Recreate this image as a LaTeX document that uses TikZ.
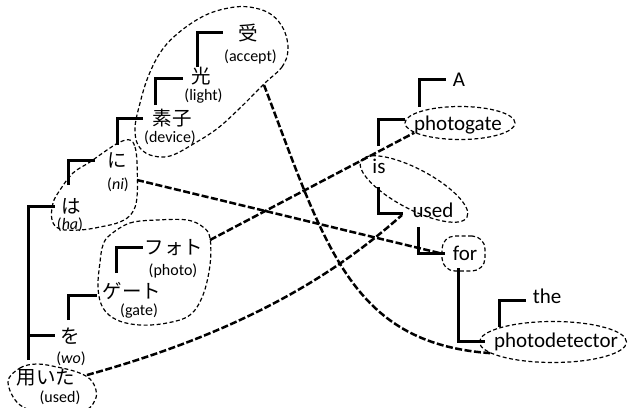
\documentclass[tikz,border=0pt]{standalone}
\usepackage{fontspec}
\setmainfont{Carlito}
\newfontfamily\jpfont{Noto Sans CJK JP}
\usetikzlibrary{calc,shapes.geometric}
\begin{document}
\begin{tikzpicture}[x=1pt,y=-1pt,
  jp/.style={font=\jpfont\fontsize{19.5}{19.5}\selectfont, inner sep=0pt},
  en/.style={font=\fontsize{21}{21}\selectfont, inner sep=0pt, anchor=base},
  gl/.style={font=\fontsize{16}{16}\selectfont, inner sep=0pt},
  br/.style={line width=3pt, line join=miter},
  blob/.style={draw, line width=1.2pt, dash pattern=on 4pt off 2.5pt},
  conn/.style={line width=2.5pt, dash pattern=on 7pt off 2.5pt},
]
\useasboundingbox (0,0) rectangle (628,407);

% ---------- group outlines ----------
\draw[blob] plot[smooth cycle, tension=0.6] coordinates {
  (265,83) (282,67) (288,50) (284,30) (272,15) (255,8) (235,7) (208,14)
  (182,30) (162,50) (148,77) (139,107) (135,128) (138,145) (150,155)
  (170,156) (195,143) (218,128) (240,108)};
\draw[blob] plot[smooth cycle, tension=0.6] coordinates {
  (130,140) (135,147) (137,163) (137,197) (132,213) (120,222) (100,227)
  (80,230) (60,229) (52,220) (53,203) (60,190) (73,173) (90,162)
  (107,150) (120,142)};
\draw[blob] plot[smooth cycle, tension=0.6] coordinates {
  (110,235) (130,223) (157,220) (187,220) (203,227) (210,238) (210,265)
  (203,295) (190,315) (167,323) (140,325) (117,320) (103,308) (98,288)
  (100,262) (103,245)};
\draw[blob] plot[smooth cycle, tension=0.6] coordinates {
  (8,382) (20,368) (37,364) (57,367) (77,372) (90,379) (96,390) (95,400)
  (85,410) (50,414) (20,405)};
\node[blob, ellipse, inner sep=0pt, minimum width=110pt, minimum height=33pt] (pgE) at (460,123) {};
\node[blob, ellipse, inner sep=0pt, minimum width=120pt, minimum height=40pt, rotate=-28] (iuE) at (414,189) {};
\node[blob, rectangle, rounded corners=13pt, inner sep=0pt, minimum width=43pt, minimum height=35pt] (forB) at (463.5,253.5) {};
\node[blob, ellipse, inner sep=0pt, minimum width=147pt, minimum height=41pt] (pdE) at (553,342) {};

% attachment points on the outlines
\coordinate (juOut) at (264,85);
\coordinate (niOut) at (137,180);
\coordinate (foOut) at (210,240);
\coordinate (moOut) at (87,375);
\coordinate (usedIn) at (402,215);

% ---------- alignment connectors ----------
\draw[conn] (juOut) .. controls (325,245) and (350,343) .. (pdE.190);
\draw[conn] (niOut) -- (forB.west);
\draw[conn] (foOut) -- (pgE.192);
\draw[conn] (moOut) .. controls (250,330) and (340,270) .. (usedIn);

% ---------- Japanese words ----------
\node[jp] (ju) at (248,33) {受};
\node[gl] (juG) at (250.5,56.5) {(accept)};
\node[jp] (hi) at (201,76) {光};
\node[gl] (hiG) at (203.5,96) {(light)};
\node[jp] (so) at (172,118) {素子};
\node[gl] (soG) at (170,138) {(device)};
\node[jp] (ni) at (117,160) {に};
\node[gl] (niG) at (118,185) {(\textit{ni})};
\node[jp] (ha) at (71,206) {は};
\node[gl] (haG) at (70,225) {(\textit{ha})};
\node[jp] (fo) at (174,248) {フォト};
\node[gl] (foG) at (173,271) {(photo)};
\node[jp] (ge) at (132,291) {ゲート};
\node[gl] (geG) at (139,311) {(gate)};
\node[jp] (wo) at (70,336) {を};
\node[gl] (woG) at (71,359) {(\textit{wo})};
\node[jp] (mo) at (46,378) {用いた};
\node[gl] (moG) at (60,397.5) {(used)};

% ---------- English words ----------
\node[en] (A) at (459,86) {A};
\node[en] (pg) at (458,130) {photogate};
\node[en] (is) at (379,173) {is};
\node[en] (used) at (433,217) {used};
\node[en] (for) at (465,260) {for};
\node[en] (the) at (547,303) {the};
\node[en] (pd) at (556,347) {photodetector};

% ---------- dependency brackets (Japanese) ----------
\draw[br] ($(hi)+(-4,-9)$) |- ($(ju)+(-25,-1)$);
\draw[br] ($(so)+(-17,-13)$) |- ($(hi)+(-18,2)$);
\draw[br] ($(ni)+(0,-15)$) |- ($(so)+(-29,0)$);
\draw[br] ($(ha)+(-3,-21)$) |- ($(ni)+(-22,0)$);
\draw[br] ($(mo)+(-18,-18)$) |- ($(ha)+(-16,0)$);
\draw[br] ($(wo)+(-42,-1)$) -- ($(wo)+(-15,-1)$);
\draw[br] ($(wo)+(-2,-16)$) |- ($(ge)+(-35,4)$);
\draw[br] ($(ge)+(-16,-18)$) |- ($(fo)+(-31,-1)$);

% ---------- dependency brackets (English) ----------
\draw[br] ($(pg.base)+(-39,-23)$) |- ($(A.base)+(-13,-7)$);
\draw[br] ($(is.base)+(-1,-27)$) |- ($(pg.base)+(-53,-11)$);
\draw[br] ($(is.base)+(-1,14)$) |- ($(used.base)+(-30,-4)$);
\draw[br] ($(used.base)+(-15,10)$) |- ($(for.base)+(-20,-7)$);
\draw[br] ($(for.base)+(-7,8)$) |- ($(pd.base)+(-71,-6)$);
\draw[br] ($(pd.base)+(-57,-20)$) |- ($(the.base)+(-21,-3)$);
\end{tikzpicture}
\end{document}
